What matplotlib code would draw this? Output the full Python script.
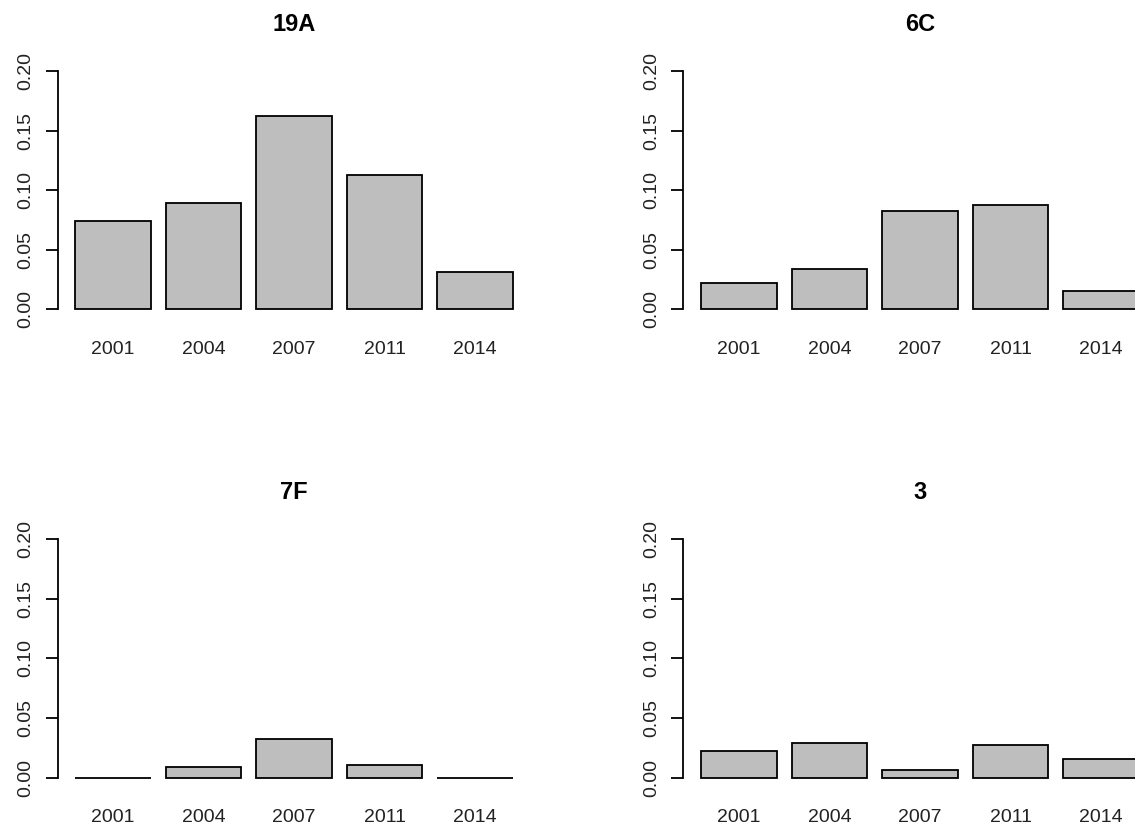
import matplotlib.pyplot as plt

plt.rcParams['font.family'] = ['Liberation Sans', 'DejaVu Sans']

years = ['2001', '2004', '2007', '2011', '2014']
titles = ['19A', '6C', '7F', '3']
vals_19a = [0.0744, 0.0890, 0.1620, 0.1125, 0.0313]
vals_6c = [0.0221, 0.0338, 0.0823, 0.0875, 0.0156]
vals_7f = [0.0, 0.0092, 0.0327, 0.0106, 0.0]
vals_3 = [0.0226, 0.0293, 0.0067, 0.0276, 0.0157]
series = [vals_19a, vals_6c, vals_7f, vals_3]

fig = plt.figure(figsize=(11.35, 8.33), dpi=100)

# axes boxes in figure fraction (left, bottom, width, height), like R's par(mfrow=c(2,2))
boxes = [
    (0.0507, 0.6173, 0.4167, 0.3089),
    (0.6022, 0.6173, 0.4167, 0.3089),
    (0.0507, 0.0550, 0.4167, 0.3094),
    (0.6022, 0.0550, 0.4167, 0.3094),
]

# R barplot positions: width 1, space 0.2
pos = [0.7 + 1.2 * i for i in range(len(years))]

for box, title, vals in zip(boxes, titles, series):
    ax = fig.add_axes(box)
    ax.bar(pos, vals, width=1.0, color='#bebebe', edgecolor='black', linewidth=1.3)
    ax.set_xlim(-0.032, 6.232)
    ax.set_ylim(-0.008, 0.208)
    for s in ['top', 'right', 'bottom']:
        ax.spines[s].set_visible(False)
    ax.spines['left'].set_bounds(0, 0.2)
    ax.spines['left'].set_linewidth(1.3)
    ax.set_yticks([0, 0.05, 0.10, 0.15, 0.20])
    ax.set_yticklabels(['0.00', '0.05', '0.10', '0.15', '0.20'],
                       rotation=90, va='center', fontsize=14, color='#222222')
    ax.tick_params(axis='y', length=9, width=1.3, pad=8)
    ax.set_xticks(pos)
    ax.set_xticklabels(years, fontsize=14, color='#222222')
    ax.tick_params(axis='x', length=0, pad=16)
    ax.set_title(title, fontsize=17, fontweight='bold', pad=22)

fig.savefig('out.png', dpi=100)
